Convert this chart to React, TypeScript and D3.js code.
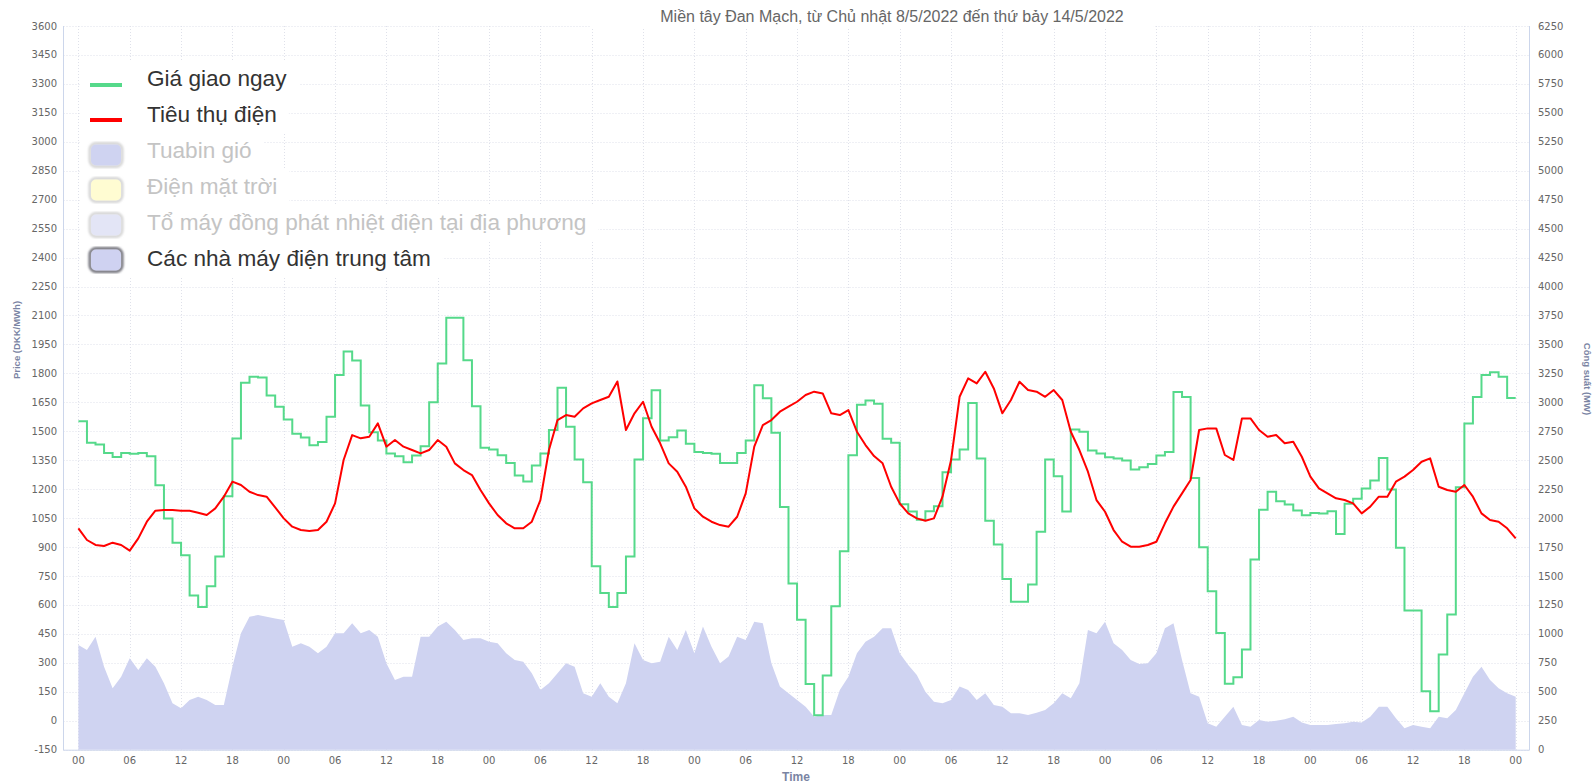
import React, { useEffect, useRef } from 'react';
import * as d3 from 'd3';

const title = 'Miền tây Đan Mạch, từ Chủ nhật 8/5/2022 đến thứ bảy 14/5/2022';

// spot price, DKK/MWh, one value per hour starting Sun 8/5 00:00
const spotPrice = [
  1552, 1440, 1431, 1388, 1367, 1388, 1383, 1388, 1371, 1220, 1048, 922, 858, 649, 590, 697, 851, 1163, 1462, 1751, 1782, 1779, 1685, 1627,
  1561, 1487, 1468, 1428, 1445, 1575, 1791, 1913, 1867, 1633, 1495, 1452, 1385, 1371, 1340, 1374, 1423, 1651, 1851, 2088, 2088, 1868, 1630, 1414,
  1405, 1376, 1336, 1271, 1240, 1322, 1385, 1506, 1725, 1523, 1354, 1236, 800, 662, 590, 662, 851, 1354, 1568, 1713, 1452, 1469, 1504, 1435,
  1393, 1388, 1383, 1336, 1336, 1388, 1452, 1739, 1671, 1492, 1108, 711, 524, 190, 28, 235, 593, 878, 1376, 1637, 1659, 1642, 1461, 1440,
  1122, 1084, 1042, 1086, 1112, 1288, 1354, 1405, 1647, 1359, 1037, 913, 735, 616, 616, 706, 979, 1354, 1267, 1084, 1509, 1497, 1400, 1385,
  1366, 1359, 1348, 1302, 1314, 1331, 1374, 1393, 1703, 1678, 1258, 899, 671, 455, 192, 225, 369, 835, 1094, 1186, 1137, 1120, 1089, 1065,
  1077, 1074, 1086, 968, 1125, 1150, 1203, 1245, 1362, 1198, 896, 571, 571, 153, 49, 343, 550, 1210, 1540, 1678, 1791, 1806, 1782, 1673,
];

// consumption, MW, hourly 00:00 Sun .. 00:00 Sun
const consumption = [
  1912, 1811, 1768, 1759, 1788, 1768, 1719, 1825, 1969, 2064, 2070, 2070, 2064, 2064, 2047, 2027, 2084, 2185, 2315, 2286, 2228, 2199, 2185, 2093,
  1998, 1926, 1897, 1889, 1897, 1969, 2127, 2502, 2717, 2689, 2703, 2818, 2617, 2674, 2617, 2588, 2559, 2588, 2674, 2617, 2473, 2415, 2372, 2243,
  2127, 2027, 1955, 1912, 1912, 1969, 2156, 2588, 2847, 2890, 2876, 2948, 2991, 3020, 3048, 3180, 2761, 2905, 3005, 2789, 2646, 2473, 2401, 2271,
  2084, 2012, 1969, 1940, 1926, 2012, 2214, 2617, 2804, 2847, 2919, 2962, 3005, 3063, 3092, 3077, 2905, 2890, 2933, 2746, 2631, 2536, 2473, 2271,
  2127, 2041, 1998, 1978, 1998, 2185, 2500, 3048, 3207, 3163, 3264, 3120, 2905, 3020, 3178, 3106, 3092, 3048, 3106, 3020, 2746, 2588, 2401, 2156,
  2055, 1897, 1796, 1753, 1753, 1768, 1796, 1955, 2099, 2214, 2329, 2761, 2775, 2775, 2545, 2502, 2861, 2861, 2761, 2703, 2717, 2646, 2660, 2530,
  2358, 2257, 2214, 2171, 2156, 2127, 2041, 2099, 2185, 2185, 2315, 2358, 2415, 2487, 2516, 2271, 2243, 2228, 2286, 2185, 2041, 1984, 1969, 1912,
  1825,
];

// central power plants, MW, hourly
const centralPlants = [
  904, 861, 976, 717, 530, 631, 789, 688, 789, 717, 573, 401, 358, 430, 458, 430, 386, 386, 717, 1005, 1149, 1163, 1149, 1134,
  1120, 890, 919, 890, 832, 890, 1005, 1005, 1091, 1005, 1034, 976, 746, 602, 631, 631, 976, 976, 1063, 1106, 1034, 947, 962, 962,
  933, 919, 832, 775, 760, 660, 516, 573, 660, 746, 717, 487, 458, 573, 458, 401, 573, 919, 775, 746, 760, 976, 861, 1034,
  832, 1063, 890, 746, 804, 976, 947, 1106, 1091, 746, 545, 487, 430, 372, 285, 300, 300, 516, 631, 832, 933, 976, 1048, 1048,
  832, 732, 645, 501, 415, 401, 430, 545, 516, 430, 487, 386, 372, 314, 314, 300, 320, 343, 401, 487, 444, 573, 1034, 1005,
  1106, 919, 861, 775, 740, 746, 832, 1048, 1091, 775, 487, 458, 228, 199, 285, 372, 214, 199, 257, 242, 251, 262, 285, 234,
  214, 214, 214, 222, 228, 242, 234, 285, 372, 372, 271, 185, 214, 199, 185, 285, 271, 343, 487, 631, 717, 602, 530, 487,
  458,
];

const priceTicks = [-150, 0, 150, 300, 450, 600, 750, 900, 1050, 1200, 1350, 1500, 1650, 1800, 1950, 2100, 2250, 2400, 2550, 2700, 2850, 3000, 3150, 3300, 3450, 3600];
const powerTicks = d3.range(0, 6251, 250);
const hourTicks = d3.range(0, 169, 6);

const legendNames = ['Giá giao ngay', 'Tiêu thụ điện', 'Tuabin gió', 'Điện mặt trời', 'Tổ máy đồng phát nhiệt điện tại địa phương', 'Các nhà máy điện trung tâm'];
const legendKinds = ['line', 'line', 'box', 'box', 'box', 'box'];
const legendColors = ['#55d98a', '#ff0000', '#cfd3f1', '#fffcd2', '#e3e5f6', '#cfd2f1'];
const legendActive = [true, true, false, false, false, true];

const FONT = '"Liberation Sans", Arial, sans-serif';
const TICK_FONT = '"DejaVu Sans", sans-serif';

const App = () => {
  const ref = useRef(null);

  useEffect(() => {
    const W = 1595, H = 784;
    const left = 63.5, right = 1529.5, top = 26, bottom = 749.7;

    const svg = d3.select(ref.current);
    svg.selectAll('*').remove();
    svg.attr('width', W).attr('height', H);

    svg.append('rect').attr('width', W).attr('height', H).attr('fill', '#fff');

    const x = d3.scaleLinear().domain([0, 168]).range([78.4, 1515.7]);
    const yL = d3.scaleLinear().domain([-150, 3600]).range([bottom, top]);
    const yR = d3.scaleLinear().domain([0, 6250]).range([bottom, top]);

    // grid
    const grid = svg.append('g').attr('stroke', '#dfe1ea').attr('stroke-dasharray', '1,2').attr('stroke-width', 1);
    priceTicks.forEach(t => {
      grid.append('line').attr('x1', left).attr('x2', right).attr('y1', Math.round(yL(t)) + 0.5).attr('y2', Math.round(yL(t)) + 0.5);
    });
    hourTicks.forEach(h => {
      grid.append('line').attr('x1', Math.round(x(h)) + 0.5).attr('x2', Math.round(x(h)) + 0.5).attr('y1', top).attr('y2', bottom);
    });

    // axis lines
    const axisColor = '#ccd6eb';
    svg.append('line').attr('x1', left).attr('x2', left).attr('y1', top).attr('y2', bottom + 0.5).attr('stroke', axisColor);
    svg.append('line').attr('x1', right).attr('x2', right).attr('y1', top).attr('y2', bottom + 0.5).attr('stroke', axisColor);
    svg.append('line').attr('x1', left).attr('x2', right).attr('y1', bottom + 0.5).attr('y2', bottom + 0.5).attr('stroke', axisColor);

    // central power plants area (right axis)
    const area = d3.area()
      .x((d, i) => x(i))
      .y0(yR(0))
      .y1(d => yR(d));
    svg.append('path').datum(centralPlants).attr('d', area).attr('fill', '#cfd3f1');

    // spot price step line (left axis)
    const stepData = [...spotPrice, spotPrice[spotPrice.length - 1]];
    const step = d3.line()
      .x((d, i) => x(i))
      .y(d => yL(d))
      .curve(d3.curveStepAfter);
    svg.append('path').datum(stepData).attr('d', step)
      .attr('fill', 'none').attr('stroke', '#55d98a').attr('stroke-width', 2);

    // consumption (right axis)
    const line = d3.line()
      .x((d, i) => x(i))
      .y(d => yR(d));
    svg.append('path').datum(consumption).attr('d', line)
      .attr('fill', 'none').attr('stroke', '#ff0000').attr('stroke-width', 2).attr('stroke-linejoin', 'round');

    // tick labels
    const lab = svg.append('g').attr('font-family', TICK_FONT).attr('font-size', 10).attr('fill', '#666');
    priceTicks.forEach(t => {
      lab.append('text').attr('x', 57).attr('y', yL(t)).attr('dy', '0.35em').attr('text-anchor', 'end').text(t);
    });
    powerTicks.forEach(t => {
      lab.append('text').attr('x', 1538).attr('y', yR(t)).attr('dy', '0.35em').attr('text-anchor', 'start').text(t);
    });
    hourTicks.forEach(h => {
      lab.append('text').attr('x', x(h)).attr('y', 764).attr('text-anchor', 'middle').text(d3.format('02d')(h % 24));
    });

    // axis titles
    const axisTitleColor = '#7a84a3';
    svg.append('text').attr('transform', 'translate(20,340) rotate(-90)')
      .attr('text-anchor', 'middle').attr('font-family', FONT).attr('font-size', 9.5).attr('font-weight', 'bold')
      .attr('fill', axisTitleColor).text('Price (DKK/MWh)');
    svg.append('text').attr('transform', 'translate(1584,379) rotate(90)')
      .attr('text-anchor', 'middle').attr('font-family', FONT).attr('font-size', 9.5).attr('font-weight', 'bold')
      .attr('fill', axisTitleColor).text('Công suất (MW)');
    svg.append('text').attr('x', 796).attr('y', 781)
      .attr('text-anchor', 'middle').attr('font-family', FONT).attr('font-size', 12).attr('font-weight', 'bold')
      .attr('fill', axisTitleColor).text('Time');

    // title with white backing
    const tg = svg.append('g');
    const tbg = tg.append('rect').attr('fill', '#fff');
    const tt = tg.append('text').attr('x', 892).attr('y', 22).attr('text-anchor', 'middle')
      .attr('font-family', FONT).attr('font-size', 16).attr('fill', '#666').text(title);
    const tb = tt.node().getBBox();
    tbg.attr('x', tb.x - 70).attr('y', 0).attr('width', tb.width + 100).attr('height', 28);

    // legend
    const defs = svg.append('defs');
    defs.append('filter').attr('id', 'soft').append('feGaussianBlur').attr('stdDeviation', 0.9);

    legendNames.forEach((name, i) => {
      const base = 86 + i * 36;
      const cy = 85 + i * 35;
      const g = svg.append('g');
      const bg = g.append('rect').attr('fill', '#fff');
      const txt = g.append('text').attr('x', 147).attr('y', base)
        .attr('font-family', FONT).attr('font-size', 22.6)
        .attr('fill', legendActive[i] ? '#333' : '#c4c4c4').text(name);
      const bb = txt.node().getBBox();
      bg.attr('x', 80).attr('y', base - 25).attr('width', bb.x + bb.width + 12 - 80).attr('height', 35);
      if (legendKinds[i] === 'line') {
        g.append('line').attr('x1', 90).attr('x2', 122).attr('y1', cy).attr('y2', cy)
          .attr('stroke', legendColors[i]).attr('stroke-width', 4);
      } else {
        g.append('rect').attr('x', 90).attr('y', cy - 11.5).attr('width', 32).attr('height', 23).attr('rx', 6)
          .attr('fill', 'none').attr('stroke', legendActive[i] ? '#6f6f78' : '#d4d4d4').attr('stroke-width', 3)
          .attr('filter', 'url(#soft)');
        g.append('rect').attr('x', 91).attr('y', cy - 10.5).attr('width', 30).attr('height', 21).attr('rx', 5)
          .attr('fill', legendColors[i]);
      }
    });
  }, []);

  return <svg ref={ref} style={{ position: 'absolute', left: 0, top: 0, display: 'block' }} />;
};

export default App;
